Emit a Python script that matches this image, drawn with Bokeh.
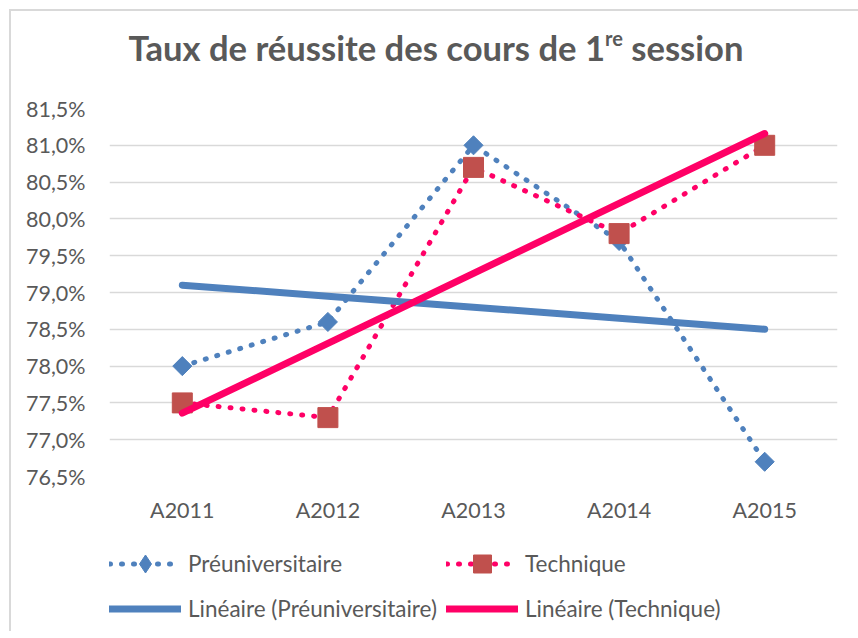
import numpy as np
from bokeh.plotting import figure
from bokeh.layouts import column
from bokeh.models import (FactorRange, Range1d, FixedTicker, CustomJSTickFormatter,
                          Legend, LegendItem, Div)
from bokeh.embed import file_html
from bokeh.resources import INLINE

# ---- data ----
categories = ["A2011", "A2012", "A2013", "A2014", "A2015"]
preuniversitaire = [78.0, 78.6, 81.0, 79.7, 76.7]
technique = [77.5, 77.3, 80.7, 79.8, 81.0]
y_ticks = [76.5, 77.0, 77.5, 78.0, 78.5, 79.0, 79.5, 80.0, 80.5, 81.0, 81.5]
series_names = ["Préuniversitaire", "Technique"]

# linear trend lines (least squares, as the spreadsheet's "Linéaire" trendline)
x_idx = np.arange(1, len(categories) + 1)
trend_preu = list(np.polyval(np.polyfit(x_idx, preuniversitaire, 1), x_idx))
trend_tech = list(np.polyval(np.polyfit(x_idx, technique, 1), x_idx))

FONT = "Lato"
TEXT = "#595959"
BLUE = "#4F81BD"
PINK = "#FF0066"
RED = "#C0504D"
GRID = "#D9D9D9"
FS = "21.5px"
FS_LEGEND = "22.5px"

title = Div(
    text=("<div style=\"width:840px;text-align:center;padding-left:0px;box-sizing:border-box;"
          "padding-top:15px;font-family:Lato;font-weight:bold;font-size:34.6px;line-height:34px;"
          "color:#595959;white-space:nowrap\">Taux de réussite des cours de 1"
          "<sup style=\"font-size:20px;line-height:0;vertical-align:15px\">re</sup> session</div>"),
    width=840, height=45)

x_range = FactorRange(*categories)
y_range = Range1d(y_ticks[0], y_ticks[-1])

p = figure(x_range=x_range, y_range=y_range,
           frame_width=728, frame_height=368,
           min_border_left=98, min_border_right=13, min_border_top=42, min_border_bottom=65,
           output_backend="svg", toolbar_location=None)
p.outline_line_color = None
p.xgrid.grid_line_color = None
p.ygrid.grid_line_color = GRID
p.ygrid.grid_line_width = 1.5

p.yaxis.ticker = FixedTicker(ticks=y_ticks)
p.yaxis.formatter = CustomJSTickFormatter(code="return tick.toFixed(1).replace('.', ',') + '%';")
for ax in (p.xaxis, p.yaxis):
    ax.axis_line_color = None
    ax.major_tick_line_color = None
    ax.minor_tick_line_color = None
    ax.major_label_text_font = FONT
    ax.major_label_text_font_size = FS
    ax.major_label_text_color = TEXT
p.yaxis.major_label_standoff = 18
p.xaxis.major_label_standoff = 14


def draw_series(fig, visible=True, diamond=("square", 13.5, np.pi / 4), square_size=20):
    l1 = fig.line(categories, preuniversitaire, color=BLUE, line_width=5, line_dash="1 11",
                  line_cap="round", visible=visible)
    s1 = fig.scatter(categories, preuniversitaire, marker=diamond[0], angle=diamond[2],
                     size=diamond[1], color=BLUE, visible=visible)
    l2 = fig.line(categories, technique, color=PINK, line_width=5, line_dash="1 11",
                  line_cap="round", visible=visible)
    s2 = fig.scatter(categories, technique, marker="square", size=square_size, fill_color=RED,
                     line_color=RED, visible=visible)
    t1 = fig.line(categories, trend_preu, color=BLUE, line_width=7, line_cap="round", visible=visible)
    t2 = fig.line(categories, trend_tech, color=PINK, line_width=7, line_cap="round", visible=visible)
    return l1, s1, l2, s2, t1, t2


draw_series(p)

# legend strip under the chart (own figure so that nothing is clipped)
pl = figure(x_range=x_range, y_range=y_range, width=840, height=90,
            min_border_left=97, min_border_right=0, min_border_top=0, min_border_bottom=0,
            x_axis_location=None, y_axis_location=None,
            output_backend="svg", toolbar_location=None)
pl.outline_line_color = None
pl.grid.visible = False
l1, s1, l2, s2, t1, t2 = draw_series(pl, visible=False, diamond=("diamond", 17, 0), square_size=15)

legend_style = dict(orientation="horizontal",
                    glyph_width=72, glyph_height=45, label_height=45, label_width=251,
                    label_standoff=7, spacing=7, padding=0, margin=0,
                    border_line_color=None, background_fill_alpha=0, inactive_fill_alpha=0,
                    label_text_font=FONT, label_text_font_size=FS_LEGEND, label_text_color=TEXT,
                    label_text_baseline="middle")
legend_a = Legend(items=[
    LegendItem(label=series_names[0], renderers=[l1, s1]),
    LegendItem(label=series_names[1], renderers=[l2, s2]),
], location="top_left", **legend_style)
legend_b = Legend(items=[
    LegendItem(label="Linéaire (" + series_names[0] + ")", renderers=[t1]),
    LegendItem(label="Linéaire (" + series_names[1] + ")", renderers=[t2]),
], location="bottom_left", **legend_style)
pl.add_layout(legend_a)
pl.add_layout(legend_b)

layout = column(title, p, pl, spacing=0,
                styles={"border-left": "2px solid #D9D9D9", "border-top": "2px solid #D9D9D9",
                        "margin-left": "9px", "margin-top": "9px"})
open("out.html", "w").write(file_html(layout, INLINE))
